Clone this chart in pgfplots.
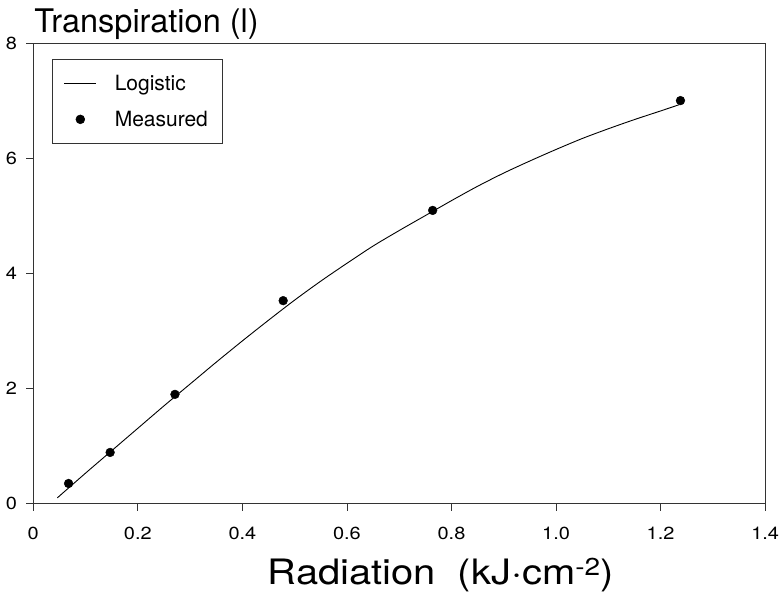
\documentclass[border=0pt]{standalone}
\usepackage{fontspec}
\setmainfont{TeX Gyre Heros}
\newfontfamily\wide[FakeStretch=1.14]{TeX Gyre Heros}
\usepackage{pgfplots}
\pgfplotsset{compat=1.18}

\begin{document}
\begin{tikzpicture}
\begin{axis}[
  scale only axis, width=732pt, height=460pt,
  xmin=0, xmax=1.4, ymin=0, ymax=8,
  clip=false,
  xtick={0,0.2,0.4,0.6,0.8,1.0,1.2,1.4},
  xticklabels={0,0.2,0.4,0.6,0.8,1.0,1.2,1.4},
  ytick={0,2,4,6,8},
  /pgf/number format/assume math mode=true,
  tick label style={font=\wide\fontsize{17.5}{19}\selectfont, inner sep=0pt},
  xticklabel style={anchor=base, yshift=-29pt},
  yticklabel style={anchor=base east, xshift=-9pt, yshift=-6pt},
  tick align=outside, major tick length=7pt,
  xtick pos=bottom, ytick pos=left,
  axis line style={line width=0.7pt, black!80},
  tick style={line width=0.7pt, black!80},
  xlabel={Radiation\ \ (kJ·cm\textsuperscript{-2})},
  xlabel style={font=\wide\fontsize{35}{38}\selectfont, at={(axis description cs:0.557,0)}, anchor=base, yshift=-81pt, inner sep=0pt},
  legend style={at={(0.025,0.967)}, anchor=north west, draw=black!80, line width=0.6pt,
    font=\fontsize{21}{23}\selectfont, row sep=15pt, inner xsep=12pt, inner ysep=14pt,
    /tikz/every odd column/.append style={column sep=16pt}},
  legend cell align=left,
  legend image code/.code={\draw[#1] (0pt,0pt) -- (32pt,0pt);},
]
\addplot[black, line width=0.9pt, smooth] coordinates {
  (0.046,0.10) (0.10,0.53) (0.15,0.92) (0.20,1.31) (0.25,1.70) (0.30,2.08)
  (0.35,2.46) (0.40,2.83) (0.45,3.19) (0.50,3.54) (0.55,3.87) (0.60,4.18)
  (0.65,4.48) (0.70,4.75) (0.75,5.01) (0.80,5.27) (0.85,5.52) (0.90,5.75)
  (0.95,5.96) (1.00,6.16) (1.05,6.35) (1.10,6.52) (1.15,6.68) (1.20,6.83)
  (1.236,6.94)
};
\addlegendentry{Logistic}
\addplot[only marks, mark=*, mark size=4.4pt, black,
  legend image code/.code={\fill[black] (16pt,0pt) circle (4.4pt);}] coordinates {
  (0.0675,0.35) (0.147,0.89) (0.271,1.90) (0.478,3.53) (0.764,5.10) (1.238,7.01)
};
\addlegendentry{Measured}
\node[anchor=base west, inner sep=0pt, font=\fontsize{32.5}{34}\selectfont]
  at (rel axis cs:0,1) [xshift=1pt, yshift=11pt] {Transpiration (l)};
\end{axis}
\path (current bounding box.north west) ++(-6pt,9pt);
\end{tikzpicture}
\end{document}
